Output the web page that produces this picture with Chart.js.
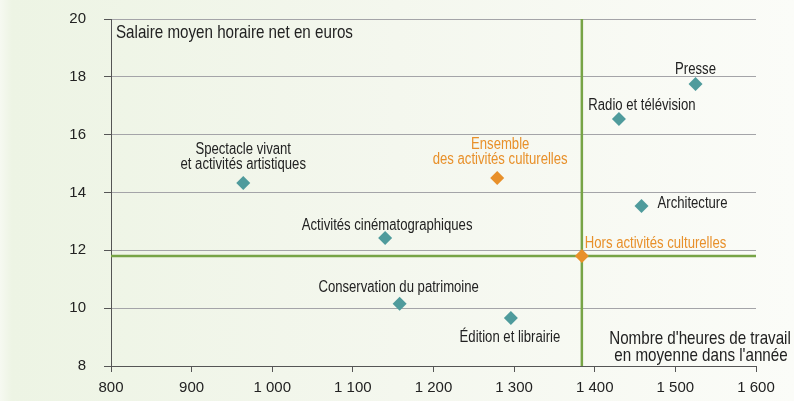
<!DOCTYPE html>
<html>
<head>
<meta charset="utf-8">
<script src="https://cdn.jsdelivr.net/npm/chart.js@4.4.1/dist/chart.umd.min.js"></script>
<style>
  html, body { margin: 0; padding: 0; background: #ffffff; }
  #chart { display: block; }
</style>
</head>
<body>
<canvas id="chart" width="794" height="401"></canvas>
<script>
// Secteurs culturels : heures travaillées / salaire horaire net
const secteurs = ["Spectacle vivant\net activités artistiques", "Activités cinématographiques",
  "Conservation du patrimoine", "Édition et librairie", "Radio et télévision", "Presse", "Architecture"];
const heures = [964, 1140, 1158, 1296, 1430, 1525, 1458];
const salaires = [14.33, 12.43, 10.15, 9.66, 16.54, 17.75, 13.53];

// Points de référence
const ensembles = ["Ensemble\ndes activités culturelles", "Hors activités culturelles"];
const heuresEns = [1279, 1384];
const salairesEns = [14.5, 11.8];

const xTicks = [800, 900, 1000, 1100, 1200, 1300, 1400, 1500, 1600];
const yTicks = [8, 10, 12, 14, 16, 18, 20];

const FONT = "'Liberation Sans', Arial, sans-serif";
const NARROW = 0.82; // pas de police etroite dispo, on compresse
const TEAL = "#4f9b9c";
const ORANGE = "#e8902a";
const GREEN = "#77a446";

// decalages des etiquettes (px) : dx, dy (derniere ligne), alignement
const placeSecteurs = [[0, -18, "center"], [2, -12, "center"], [-1, -16, "center"], [-1, 20, "center"],
  [23, -13, "center"], [0, -14, "center"], [16, -2, "left"]];
const placeEns = [[3, -18, "center"], [3, -13, "left"]];

function fmt(v) {
  return String(v).replace(/\B(?=(\d{3})+(?!\d))/g, " ");
}

// texte compressé horizontalement
function narrowText(c, text, x, y) {
  c.save();
  c.translate(x, y);
  c.scale(NARROW, 1);
  c.fillText(text, 0, 0);
  c.restore();
}

const bgPlugin = {
  id: "bg",
  beforeDraw(chart) {
    const c = chart.ctx;
    const g = c.createLinearGradient(0, 0, chart.width, 0);
    g.addColorStop(0, "#f6f9f1");
    g.addColorStop(0.015, "#edf4e4");
    g.addColorStop(0.5, "#f4f7ee");
    g.addColorStop(1, "#fbfcf8");
    c.save();
    c.fillStyle = g;
    c.fillRect(0, 0, chart.width, chart.height);
    c.restore();
  }
};

const labelPlugin = {
  id: "labels",
  afterDatasetsDraw(chart) {
    const c = chart.ctx;
    const xs = chart.scales.x, ys = chart.scales.y;
    c.save();
    c.textBaseline = "middle";

    function draw(text, x, y, place, color) {
      const lines = text.split("\n");
      c.fillStyle = color;
      c.textAlign = place[2];
      const px = xs.getPixelForValue(x) + place[0];
      const py = ys.getPixelForValue(y) + place[1];
      lines.forEach((l, i) => {
        narrowText(c, l, px, py + (i - (lines.length - 1)) * 15);
      });
    }

    c.font = "16px " + FONT;
    secteurs.forEach((s, i) => draw(s, heures[i], salaires[i], placeSecteurs[i], "#222222"));
    ensembles.forEach((s, i) => draw(s, heuresEns[i], salairesEns[i], placeEns[i], ORANGE));

    // titres des axes
    c.fillStyle = "#222222";
    c.font = "18.5px " + FONT;
    c.textAlign = "left";
    narrowText(c, "Salaire moyen horaire net en euros", chart.chartArea.left + 5, chart.chartArea.top + 14);
    c.textAlign = "center";
    narrowText(c, "Nombre d'heures de travail", 700, 339);
    narrowText(c, "en moyenne dans l'année", 701, 356);
    c.restore();
  }
};

const ctx = document.getElementById("chart").getContext("2d");
new Chart(ctx, {
  type: "scatter",
  data: {
    datasets: [
      {
        label: "Hors activités culturelles (heures)",
        type: "line",
        data: [{ x: heuresEns[1], y: yTicks[0] }, { x: heuresEns[1], y: yTicks[yTicks.length - 1] }],
        borderColor: GREEN,
        borderWidth: 2.5,
        pointRadius: 0,
        order: 3
      },
      {
        label: "Hors activités culturelles (salaire)",
        type: "line",
        data: [{ x: xTicks[0], y: salairesEns[1] }, { x: xTicks[xTicks.length - 1], y: salairesEns[1] }],
        borderColor: GREEN,
        borderWidth: 2.5,
        pointRadius: 0,
        order: 3
      },
      {
        label: "Secteurs",
        data: heures.map((h, i) => ({ x: h, y: salaires[i] })),
        pointStyle: "rectRot",
        pointRadius: 7,
        backgroundColor: TEAL,
        borderColor: TEAL,
        borderWidth: 0,
        order: 1
      },
      {
        label: "Ensemble",
        data: heuresEns.map((h, i) => ({ x: h, y: salairesEns[i] })),
        pointStyle: "rectRot",
        pointRadius: 7,
        backgroundColor: ORANGE,
        borderColor: ORANGE,
        borderWidth: 0,
        order: 0
      }
    ]
  },
  options: {
    responsive: false,
    animation: false,
    layout: { padding: { left: 0, right: 38, top: 19, bottom: 0 } },
    plugins: {
      legend: { display: false },
      tooltip: { enabled: false }
    },
    scales: {
      x: {
        type: "linear",
        min: xTicks[0],
        max: xTicks[xTicks.length - 1],
        afterBuildTicks: s => { s.ticks = xTicks.map(v => ({ value: v })); },
        afterFit: s => { s.height = 35; },
        grid: { drawOnChartArea: false, tickLength: 6, color: "#555555" },
        border: { color: "#555555", width: 1 },
        ticks: {
          padding: 7,
          color: "#222222",
          font: { family: FONT, size: 15 },
          callback: v => fmt(v),
          maxRotation: 0
        }
      },
      y: {
        min: yTicks[0],
        max: yTicks[yTicks.length - 1],
        afterBuildTicks: s => { s.ticks = yTicks.map(v => ({ value: v })); },
        afterFit: s => { s.width = 111; s.paddingTop = 0; s.paddingBottom = 0; },
        grid: { color: "#a4a4a8", tickLength: 7, tickColor: "#555555" },
        border: { color: "#555555", width: 1 },
        ticks: {
          padding: 18,
          color: "#222222",
          font: { family: FONT, size: 15 },
          callback: v => fmt(v)
        }
      }
    }
  },
  plugins: [bgPlugin, labelPlugin]
});
</script>
</body>
</html>
